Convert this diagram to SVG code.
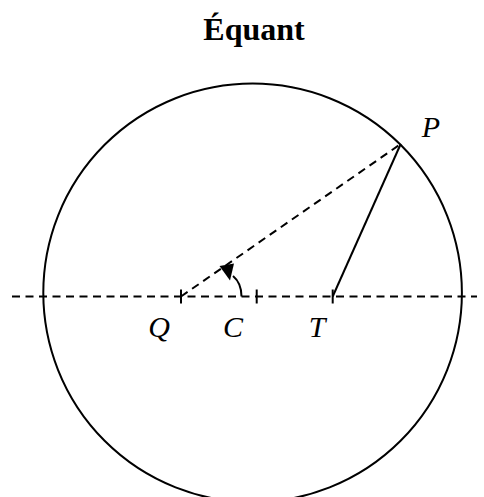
<svg xmlns="http://www.w3.org/2000/svg" width="484" height="497" viewBox="0 0 484 497">
<style>
.title{font-family:"Liberation Serif","Times New Roman",serif;font-weight:bold;font-size:32px;text-anchor:middle}
.lbl{font-family:"Liberation Serif","Times New Roman",serif;font-style:italic;font-size:30px;text-anchor:middle}
.ln{fill:none;stroke:#000;stroke-width:2}
.dash{fill:none;stroke:#000;stroke-width:2;stroke-dasharray:8 5.5}
</style>
<rect width="484" height="497" fill="#fff"/>
<text class="title" x="254" y="40">Équant</text>
<g id="circle"><circle class="ln" cx="252.6" cy="292.8" r="209.3"/></g>
<g id="connectors">
<line class="dash" x1="12" y1="296.5" x2="477" y2="296.5"/>
<line class="dash" x1="181" y1="296.5" x2="400.7" y2="144"/>
<line class="ln" x1="332.7" y1="296.5" x2="400.7" y2="144"/>
<path class="ln" d="M241.5,296.5 C241.5,288 239,281 233,276"/>
<polygon points="219.5,266 234,263.5 230,280.5" fill="#000"/>
</g>
<g id="Q"><line class="ln" x1="181" y1="289.5" x2="181" y2="303.5"/><text class="lbl" x="159" y="337">Q</text></g>
<g id="C"><line class="ln" x1="256.7" y1="289.5" x2="256.7" y2="303.5"/><text class="lbl" x="233" y="337">C</text></g>
<g id="T"><line class="ln" x1="332.7" y1="289.5" x2="332.7" y2="303.5"/><text class="lbl" x="317" y="337">T</text></g>
<g id="P"><text class="lbl" x="431" y="137">P</text></g>
</svg>
